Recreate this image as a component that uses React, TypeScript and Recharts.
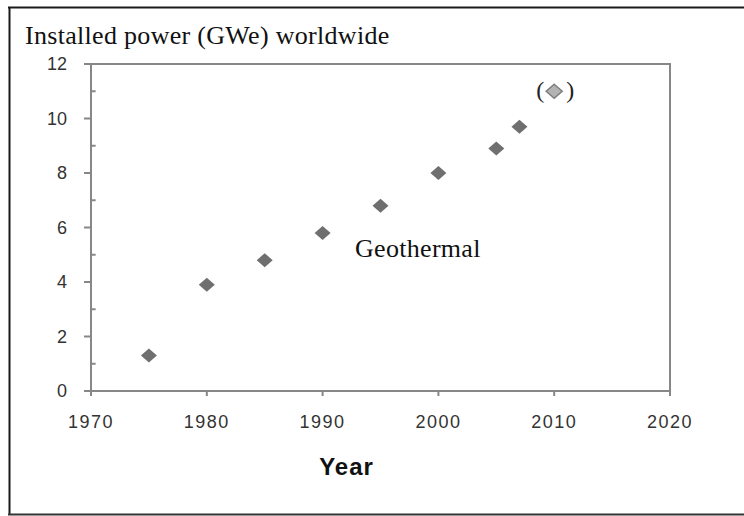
import React from 'react';
import { ScatterChart, Scatter, XAxis, YAxis, ReferenceArea, ReferenceLine } from 'recharts';

// Installed geothermal power worldwide (GWe)
const years = [1975, 1980, 1985, 1990, 1995, 2000, 2005, 2007];
const capacity = [1.3, 3.9, 4.8, 5.8, 6.8, 8.0, 8.9, 9.7];
const projectedYears = [2010];
const projectedCapacity = [11.0];
const xTicks = [1970, 1980, 1990, 2000, 2010, 2020];
const yTicks = [0, 2, 4, 6, 8, 10, 12];
const yMinorTicks = [1, 3, 5, 7, 9, 11];

const title = 'Installed power (GWe) worldwide';
const seriesLabel = 'Geothermal';
const xTitle = 'Year';

const mainData = years.map((y, i) => ({ x: y, y: capacity[i] }));
const projData = projectedYears.map((y, i) => ({ x: y, y: projectedCapacity[i] }));

const AXIS = '#878787';
const TICK_TEXT = '#333333';

const Diamond = (props: any) => {
  const { cx, cy } = props;
  if (cx == null || cy == null) return null;
  return (
    <polygon
      points={`${cx},${cy - 7} ${cx + 8},${cy} ${cx},${cy + 7} ${cx - 8},${cy}`}
      fill="#6f6f6f"
    />
  );
};

const BracketDiamond = (props: any) => {
  const { cx, cy } = props;
  if (cx == null || cy == null) return null;
  return (
    <g>
      <polygon
        points={`${cx},${cy - 7} ${cx + 8},${cy} ${cx},${cy + 7} ${cx - 8},${cy}`}
        fill="#b3b3b3"
        stroke="#7d7d7d"
        strokeWidth={1.5}
      />
      <text x={cx - 14} y={cy + 7} textAnchor="middle" fontFamily="'Liberation Serif', 'Times New Roman', serif" fontSize={24} fill="#222">(</text>
      <text x={cx + 16} y={cy + 7} textAnchor="middle" fontFamily="'Liberation Serif', 'Times New Roman', serif" fontSize={24} fill="#222">)</text>
    </g>
  );
};

export default function App() {
  return (
    <div style={{ position: 'fixed', left: 0, top: 0, width: 744, height: 516, background: '#fff', overflow: 'hidden' }}>
      <div style={{ position: 'absolute', left: 0, top: 0 }}>
        <ScatterChart width={744} height={516} margin={{ top: 64, right: 74, bottom: 85, left: 31 }}>
          <ReferenceArea x1={1970} x2={2020} y1={0} y2={12} fill="none" stroke={AXIS} strokeWidth={2} />
          {yMinorTicks.map((v) => (
            <ReferenceLine
              key={v}
              segment={[{ x: 1970, y: v }, { x: 1970.4, y: v }]}
              stroke={AXIS}
              strokeWidth={2}
            />
          ))}
          <XAxis
            type="number"
            dataKey="x"
            domain={[1970, 2020]}
            ticks={xTicks}
            interval={0}
            height={40}
            tickSize={5}
            tickMargin={19}
            axisLine={{ stroke: AXIS, strokeWidth: 2 }}
            tickLine={{ stroke: AXIS, strokeWidth: 2 }}
            tick={{ fill: TICK_TEXT, fontSize: 18, fontFamily: "'Liberation Sans', Arial, sans-serif", letterSpacing: 1.5 }}
          />
          <YAxis
            type="number"
            dataKey="y"
            domain={[0, 12]}
            ticks={yTicks}
            interval={0}
            width={60}
            tickSize={7}
            tickMargin={17}
            axisLine={{ stroke: AXIS, strokeWidth: 2 }}
            tickLine={{ stroke: AXIS, strokeWidth: 2 }}
            tick={{ fill: TICK_TEXT, fontSize: 18, fontFamily: "'Liberation Sans', Arial, sans-serif" }}
          />
          <Scatter data={mainData} shape={<Diamond />} isAnimationActive={false} />
          <Scatter data={projData} shape={<BracketDiamond />} isAnimationActive={false} />
        </ScatterChart>
      </div>
      <svg width={744} height={516} style={{ position: 'absolute', left: 0, top: 0, pointerEvents: 'none' }}>
        <line x1={8} y1={7.5} x2={744} y2={7.5} stroke="#1a1a1a" strokeWidth={2} />
        <line x1={9.5} y1={7} x2={9.5} y2={515} stroke="#1a1a1a" strokeWidth={2} />
        <line x1={8} y1={514.5} x2={744} y2={514.5} stroke="#333" strokeWidth={2} />
        <text x={25} y={44} fontFamily="'Liberation Serif', 'Times New Roman', serif" fontSize={26} fill="#111" letterSpacing={0.3}>{title}</text>
        <text x={355} y={257} fontFamily="'Liberation Serif', 'Times New Roman', serif" fontSize={26} fill="#111" letterSpacing={0.3}>{seriesLabel}</text>
        <text x={346.5} y={475} textAnchor="middle" fontFamily="'Liberation Sans', Arial, sans-serif" fontWeight="bold" fontSize={24} fill="#111" letterSpacing={1}>{xTitle}</text>
      </svg>
    </div>
  );
}
